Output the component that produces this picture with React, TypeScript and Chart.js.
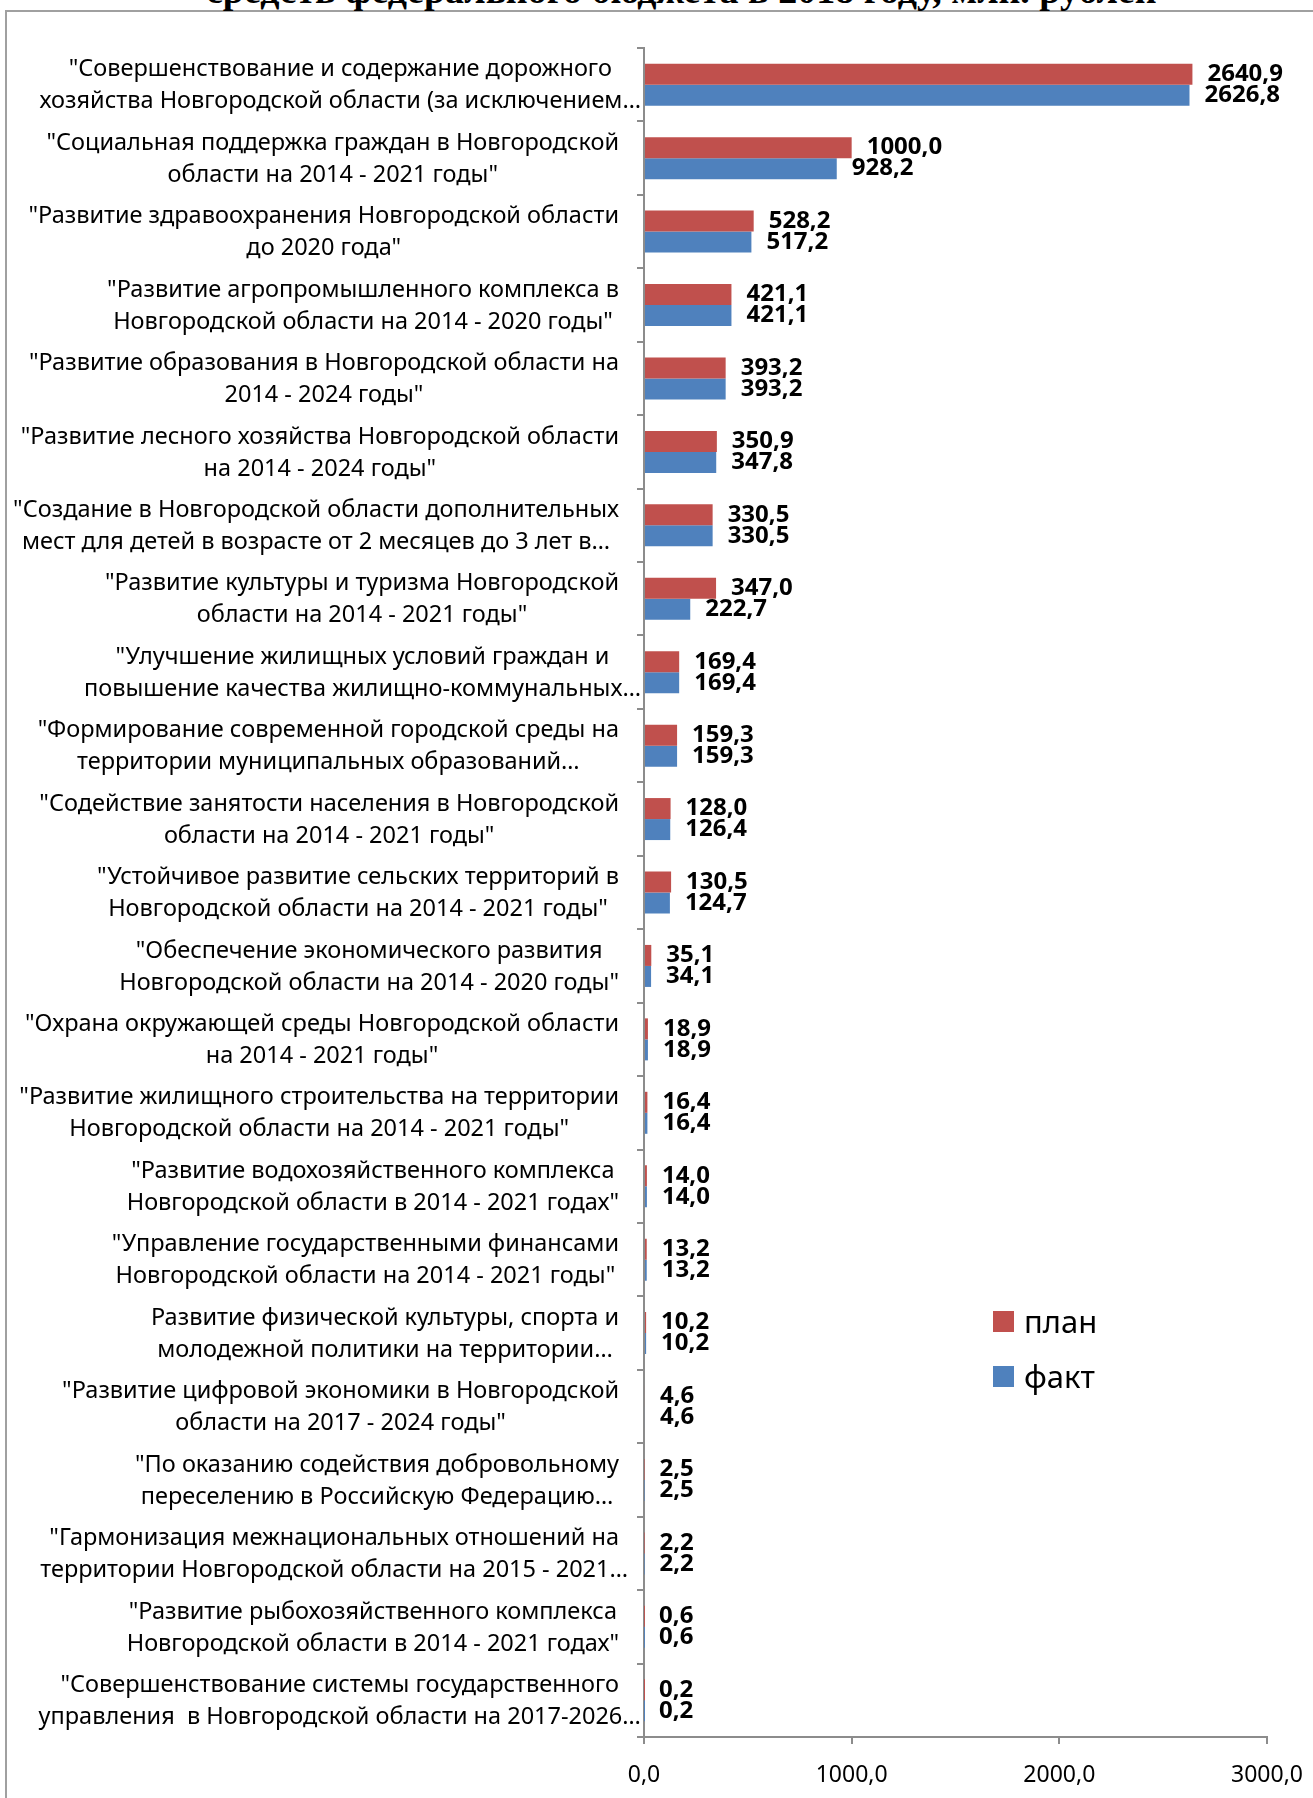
import React, { useEffect, useRef } from "react";
import { Chart, registerables } from "chart.js";

Chart.register(...registerables);

const titleLine = "средств федерального бюджета в 2018 году, млн. рублей";

const seriesNames = ["план", "факт"];
const seriesColors = ["#C0504D", "#4F81BD"];

const categories: string[][] = [
  ['"Совершенствование и содержание дорожного', "хозяйства Новгородской области (за исключением…"],
  ['"Социальная поддержка граждан в Новгородской', 'области на 2014 - 2021 годы"'],
  ['"Развитие здравоохранения Новгородской области', 'до 2020 года"'],
  ['"Развитие агропромышленного комплекса в', 'Новгородской области на 2014 - 2020 годы"'],
  ['"Развитие образования в Новгородской области на', '2014 - 2024 годы"'],
  ['"Развитие лесного хозяйства Новгородской области', 'на 2014 - 2024 годы"'],
  ['"Создание в Новгородской области дополнительных', "мест для детей в возрасте от 2 месяцев до 3 лет в…"],
  ['"Развитие культуры и туризма Новгородской', 'области на 2014 - 2021 годы"'],
  ['"Улучшение жилищных условий граждан и', "повышение качества жилищно-коммунальных…"],
  ['"Формирование современной городской среды на', "территории муниципальных образований…"],
  ['"Содействие занятости населения в Новгородской', 'области на 2014 - 2021 годы"'],
  ['"Устойчивое развитие сельских территорий в', 'Новгородской области на 2014 - 2021 годы"'],
  ['"Обеспечение экономического развития', 'Новгородской области на 2014 - 2020 годы"'],
  ['"Охрана окружающей среды Новгородской области', 'на 2014 - 2021 годы"'],
  ['"Развитие жилищного строительства на территории', 'Новгородской области на 2014 - 2021 годы"'],
  ['"Развитие водохозяйственного комплекса', 'Новгородской области в 2014 - 2021 годах"'],
  ['"Управление государственными финансами', 'Новгородской области на 2014 - 2021 годы"'],
  ["Развитие физической культуры, спорта и", "молодежной политики на территории…"],
  ['"Развитие цифровой экономики в Новгородской', 'области на 2017 - 2024 годы"'],
  ['"По оказанию содействия добровольному', "переселению в Российскую Федерацию…"],
  ['"Гармонизация межнациональных отношений на', "территории Новгородской области на 2015 - 2021…"],
  ['"Развитие рыбохозяйственного комплекса', 'Новгородской области в 2014 - 2021 годах"'],
  ['"Совершенствование системы государственного', "управления  в Новгородской области на 2017-2026…"],
];

const planValues = [
  2640.9, 1000.0, 528.2, 421.1, 393.2, 350.9, 330.5, 347.0, 169.4, 159.3, 128.0, 130.5,
  35.1, 18.9, 16.4, 14.0, 13.2, 10.2, 4.6, 2.5, 2.2, 0.6, 0.2,
];
const factValues = [
  2626.8, 928.2, 517.2, 421.1, 393.2, 347.8, 330.5, 222.7, 169.4, 159.3, 126.4, 124.7,
  34.1, 18.9, 16.4, 14.0, 13.2, 10.2, 4.6, 2.5, 2.2, 0.6, 0.2,
];

const xMin = 0;
const xMax = 3000;
const xStep = 1000;

const fmt = (v: number) => v.toFixed(1).replace(".", ",");

const W = 1313;
const H = 1798;
const AXIS_LEFT = 644;
const AXIS_RIGHT = 1267;
const AREA_TOP = 48;
const AREA_BOTTOM = 1737;
const LABEL_RIGHT = 619;
const LINE_H = 32;
const TRUNC_OVERFLOW = 44;
const AXIS_COLOR = "#8c8c8c";

const labelsPlugin = {
  id: "customLabels",
  afterDraw(chart: any) {
    const ctx = chart.ctx as CanvasRenderingContext2D;
    const yScale = chart.scales.y;
    ctx.save();
    ctx.fillStyle = "#000";
    ctx.textBaseline = "middle";
    // category labels: block right-aligned, lines centred inside block
    ctx.font = '23.5px "Noto Sans"';
    ctx.textAlign = "center";
    (chart.data.labels as string[][]).forEach((lines, i) => {
      const cy = yScale.getPixelForValue(i) + 1;
      const w = Math.max(
        ...lines.map((l) => ctx.measureText(l).width - (l.endsWith("…") ? TRUNC_OVERFLOW : 0))
      );
      const cx = LABEL_RIGHT - w / 2;
      lines.forEach((l, k) => {
        ctx.fillText(l, cx, cy + (k - (lines.length - 1) / 2) * LINE_H);
      });
    });
    // data labels
    ctx.font = 'bold 24px "Noto Sans"';
    ctx.textAlign = "left";
    chart.data.datasets.forEach((ds: any, di: number) => {
      const meta = chart.getDatasetMeta(di);
      meta.data.forEach((bar: any, i: number) => {
        ctx.fillText(fmt(ds.data[i]), bar.x + 15, bar.y);
      });
    });
    ctx.restore();
  },
};

export default function App() {
  const canvasRef = useRef<HTMLCanvasElement>(null);

  useEffect(() => {
    let chart: Chart | null = null;
    let cancelled = false;
    const make = () => {
      if (cancelled || !canvasRef.current) return;
      chart = new Chart(canvasRef.current, {
        type: "bar",
        data: {
          labels: categories as any,
          datasets: [
            {
              label: seriesNames[0],
              data: planValues,
              backgroundColor: seriesColors[0],
              borderWidth: 0,
            },
            {
              label: seriesNames[1],
              data: factValues,
              backgroundColor: seriesColors[1],
              borderWidth: 0,
            },
          ],
        },
        options: {
          indexAxis: "y",
          responsive: false,
          animation: false,
          layout: { padding: { top: AREA_TOP, right: W - AXIS_RIGHT, left: 0, bottom: 0 } },
          datasets: { bar: { categoryPercentage: 0.572, barPercentage: 1 } },
          plugins: { legend: { display: false }, tooltip: { enabled: false } },
          scales: {
            x: {
              type: "linear",
              min: xMin,
              max: xMax,
              ticks: {
                stepSize: xStep,
                callback: (v: any) => fmt(Number(v)),
                font: { family: "Noto Sans", size: 23 },
                color: "#000",
                padding: 18,
              },
              grid: { drawOnChartArea: false, tickLength: 7, color: AXIS_COLOR, lineWidth: 2 },
              border: { color: AXIS_COLOR, width: 2 },
              afterFit: (s: any) => {
                s.height = H - AREA_BOTTOM;
                s.paddingLeft = 0;
                s.paddingRight = 0;
              },
            },
            y: {
              type: "category",
              ticks: { display: false },
              grid: { drawOnChartArea: false, tickLength: 7, color: AXIS_COLOR, lineWidth: 2, offset: true },
              border: { color: AXIS_COLOR, width: 2 },
              afterFit: (s: any) => {
                s.width = AXIS_LEFT;
                s.paddingTop = 0;
                s.paddingBottom = 0;
              },
            },
          },
        },
        plugins: [labelsPlugin],
      });
    };
    const fontsReady = (document as any).fonts
      ? Promise.all([
          (document as any).fonts.load('23px "Noto Sans"'),
          (document as any).fonts.load('bold 24px "Noto Sans"'),
        ]).catch(() => null)
      : Promise.resolve(null);
    fontsReady.then(make);
    return () => {
      cancelled = true;
      if (chart) chart.destroy();
    };
  }, []);

  return (
    <div style={{ position: "absolute", left: 0, top: 0, width: W, height: H, overflow: "hidden", background: "#fff" }}>
      <div
        style={{
          position: "absolute",
          left: 5,
          top: 10,
          width: W + 100,
          height: H + 100,
          border: "2px solid #a0a0a0",
          boxSizing: "border-box",
        }}
      />
      <div
        style={{
          position: "absolute",
          left: 206,
          top: -29,
          fontFamily: '"Liberation Serif", "Times New Roman", serif',
          fontWeight: "bold",
          fontSize: 38,
          lineHeight: "38px",
          whiteSpace: "nowrap",
          color: "#000",
        }}
      >
        {titleLine}
      </div>
      <canvas ref={canvasRef} width={W} height={H} style={{ position: "absolute", left: 0, top: 0, width: W, height: H }} />
      {seriesNames.map((name, i) => (
        <div
          key={name}
          style={{ position: "absolute", left: 993, top: 1311 + i * 55, height: 21, display: "flex", alignItems: "center" }}
        >
          <div style={{ width: 21, height: 21, background: seriesColors[i] }} />
          <span
            style={{
              marginLeft: 10,
              fontFamily: '"Noto Sans", sans-serif',
              fontSize: 31,
              lineHeight: "21px",
              color: "#000",
            }}
          >
            {name}
          </span>
        </div>
      ))}
    </div>
  );
}
